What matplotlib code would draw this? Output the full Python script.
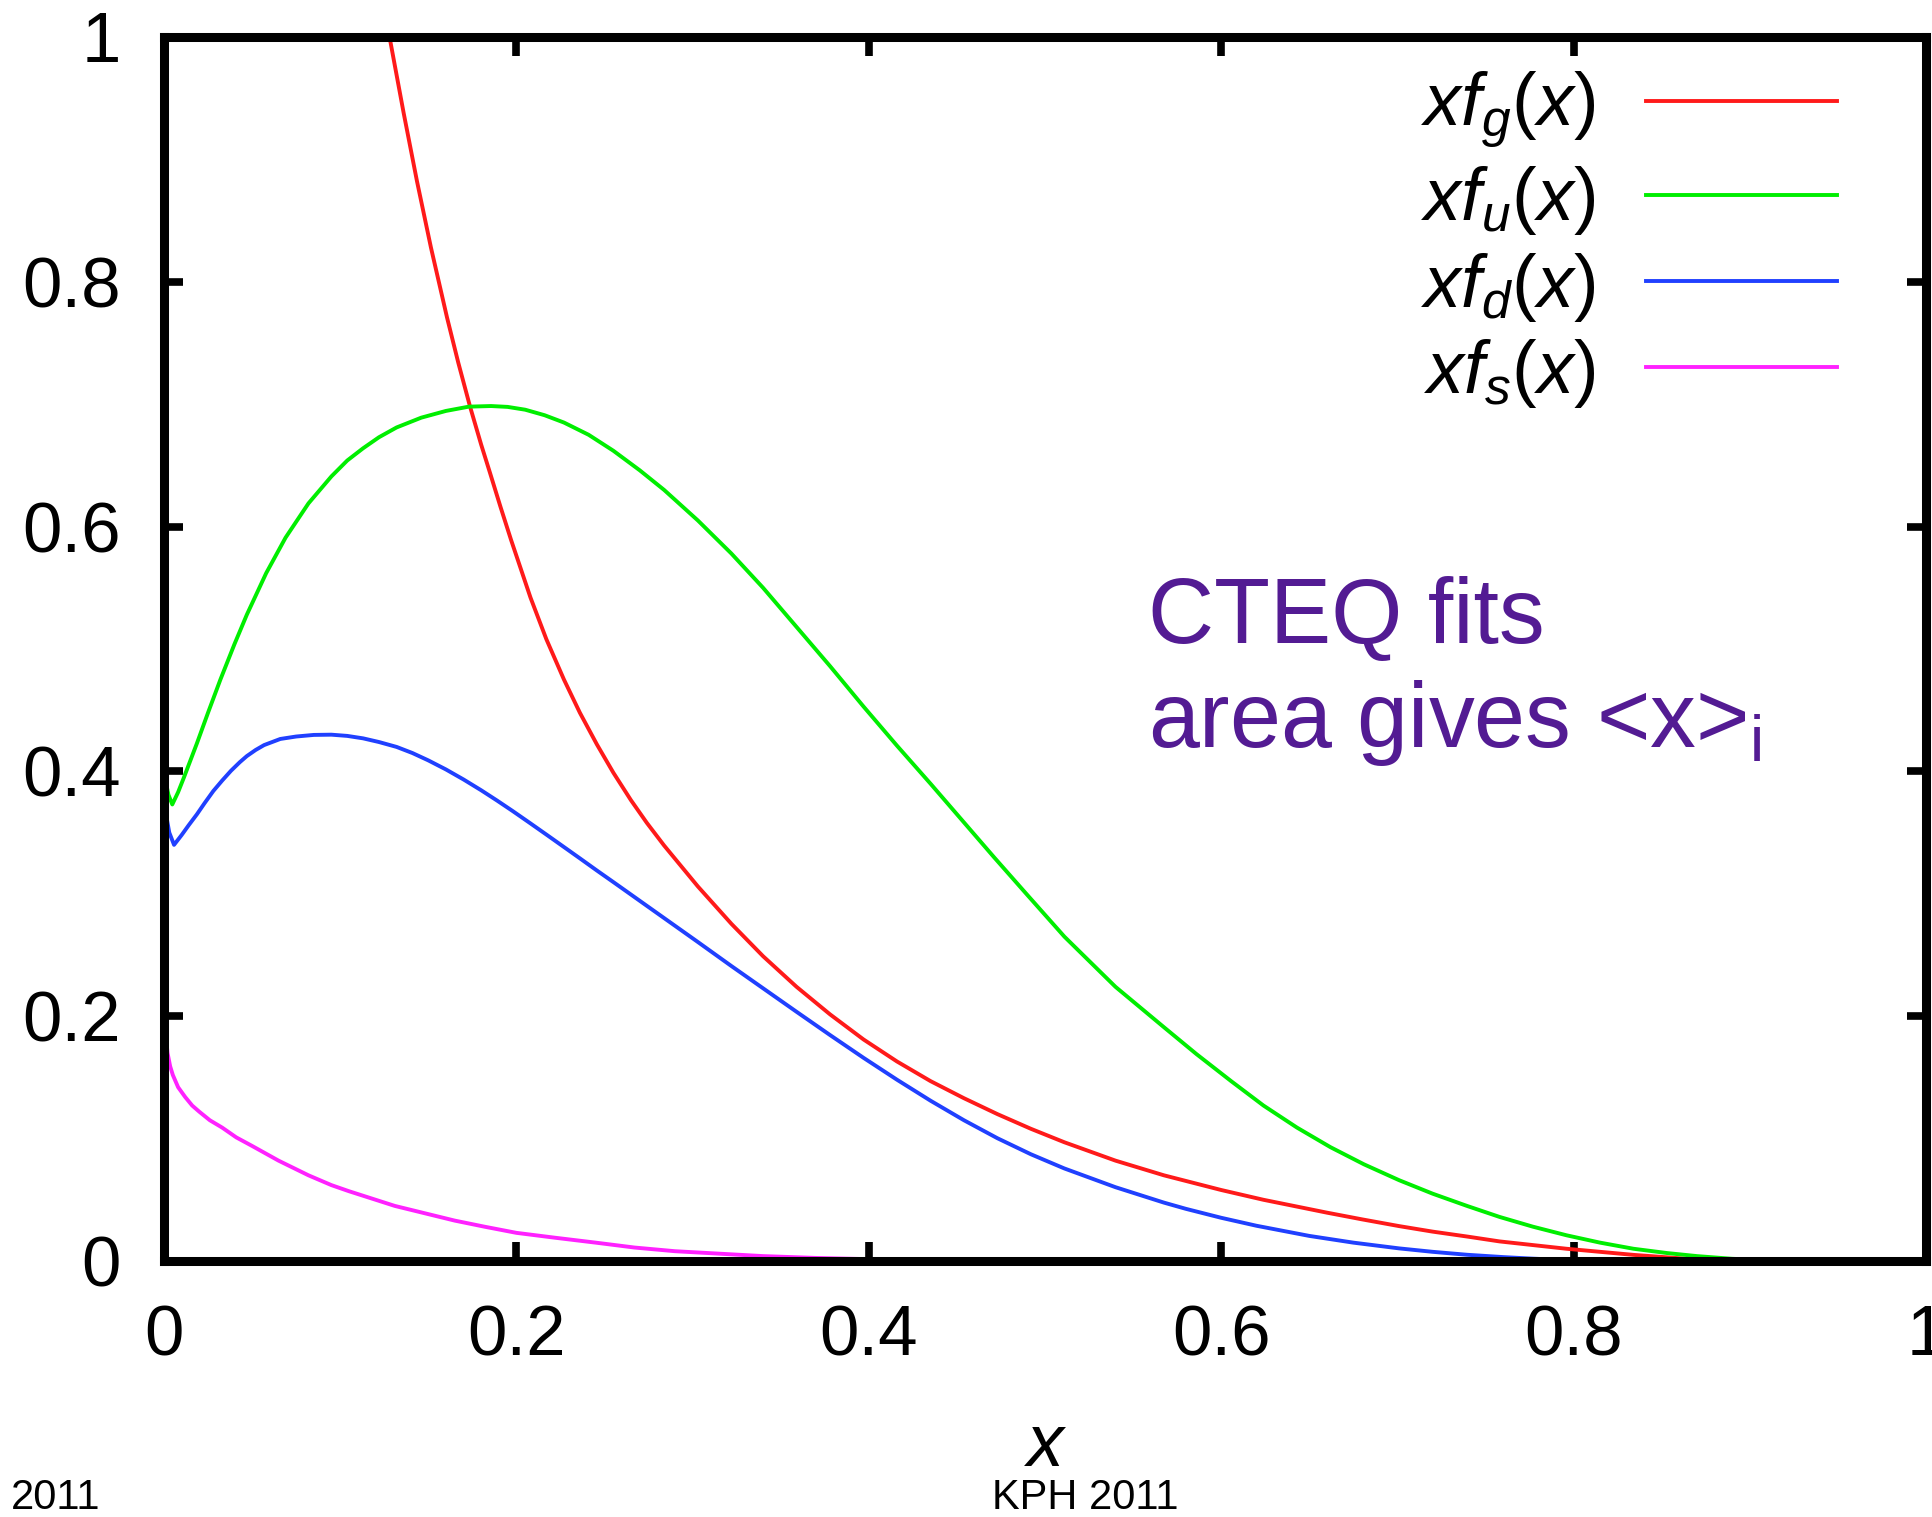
import matplotlib
matplotlib.use("Agg")
import matplotlib.pyplot as plt

plt.rcParams['font.family'] = ['Liberation Sans', 'DejaVu Sans']
plt.rcParams['mathtext.fontset'] = 'custom'
plt.rcParams['mathtext.it'] = 'Liberation Sans:italic'
plt.rcParams['mathtext.rm'] = 'Liberation Sans'
plt.rcParams['mathtext.sf'] = 'Liberation Sans'

# ---- data ----
gluon_x = [0.128, 0.136, 0.1436, 0.1515, 0.1606, 0.167, 0.1737, 0.18, 0.185, 0.191,
           0.197, 0.208, 0.217, 0.227, 0.236, 0.2457, 0.255, 0.265, 0.274, 0.2838,
           0.303, 0.322, 0.34, 0.359, 0.378, 0.397, 0.416, 0.435, 0.454, 0.473,
           0.492, 0.511, 0.54, 0.5675, 0.60, 0.624, 0.66, 0.68, 0.701, 0.72,
           0.7395, 0.758, 0.777, 0.796, 0.815, 0.834, 0.853, 0.87, 0.885]
gluon_y = [1.000, 0.938, 0.882, 0.828, 0.771, 0.734, 0.698, 0.667, 0.644, 0.616,
           0.589, 0.542, 0.508, 0.475, 0.448, 0.422, 0.399, 0.3765, 0.358, 0.3395,
           0.306, 0.2755, 0.249, 0.224, 0.2015, 0.181, 0.163, 0.147, 0.133, 0.120,
           0.108, 0.097, 0.082, 0.070, 0.058, 0.050, 0.0395, 0.034, 0.0285, 0.024,
           0.020, 0.016, 0.013, 0.010, 0.0075, 0.005, 0.003, 0.0012, 0.0]

up_x = [0.0005, 0.0025, 0.0047, 0.008, 0.0113, 0.015, 0.0187, 0.025, 0.032, 0.04,
        0.047, 0.058, 0.069, 0.082, 0.095, 0.104, 0.113, 0.122, 0.132, 0.146,
        0.16, 0.173, 0.1856, 0.195, 0.205, 0.216, 0.227, 0.241, 0.255, 0.27,
        0.2838, 0.303, 0.322, 0.34, 0.359, 0.378, 0.397, 0.416, 0.435, 0.453,
        0.471, 0.49, 0.511, 0.54, 0.5675, 0.586, 0.6056, 0.624, 0.643, 0.662,
        0.681, 0.701, 0.72, 0.7395, 0.758, 0.777, 0.796, 0.815, 0.834, 0.853,
        0.87, 0.89, 0.92]
up_y = [0.395, 0.381, 0.373, 0.383, 0.395, 0.409, 0.423, 0.448, 0.475, 0.504,
        0.528, 0.562, 0.591, 0.619, 0.641, 0.654, 0.664, 0.673, 0.681, 0.689,
        0.6945, 0.698, 0.6985, 0.6978, 0.6955, 0.691, 0.685, 0.675, 0.662, 0.646,
        0.630, 0.605, 0.578, 0.550, 0.518, 0.486, 0.453, 0.421, 0.390, 0.360,
        0.330, 0.299, 0.265, 0.224, 0.191, 0.169, 0.147, 0.127, 0.109, 0.093,
        0.079, 0.066, 0.055, 0.045, 0.036, 0.028, 0.021, 0.015, 0.010, 0.0065,
        0.004, 0.0018, 0.0]

down_x = [0.0005, 0.003, 0.0057, 0.010, 0.014, 0.0187, 0.023, 0.028, 0.033, 0.038,
          0.043, 0.047, 0.052, 0.0568, 0.066, 0.075, 0.085, 0.095, 0.104, 0.113,
          0.122, 0.132, 0.141, 0.150, 0.16, 0.170, 0.18, 0.189, 0.198, 0.208,
          0.217, 0.227, 0.236, 0.2457, 0.255, 0.265, 0.274, 0.2838, 0.303, 0.322,
          0.34, 0.359, 0.378, 0.397, 0.416, 0.435, 0.454, 0.473, 0.492, 0.511,
          0.54, 0.5675, 0.58, 0.60, 0.62, 0.65, 0.675, 0.701, 0.72, 0.7395,
          0.76, 0.777, 0.80, 0.82]
down_y = [0.370, 0.350, 0.340, 0.348, 0.356, 0.365, 0.374, 0.384, 0.3925, 0.4005,
          0.4075, 0.4125, 0.4175, 0.4215, 0.4265, 0.4285, 0.4298, 0.430, 0.429, 0.427,
          0.424, 0.420, 0.415, 0.409, 0.4016, 0.3934, 0.3846, 0.3762, 0.3675, 0.3575,
          0.3484, 0.3382, 0.329, 0.319, 0.3096, 0.2994, 0.2902, 0.2802, 0.2606, 0.241,
          0.2228, 0.2036, 0.1846, 0.166, 0.1481, 0.131, 0.115, 0.1003, 0.0872, 0.0756,
          0.0603, 0.0477, 0.0426, 0.0353, 0.0288, 0.0205, 0.015, 0.0103, 0.0075, 0.0051,
          0.0032, 0.0019, 0.0005, 0.0]

strange_x = [0.0005, 0.001, 0.002, 0.0035, 0.005, 0.008, 0.012, 0.016, 0.02, 0.026,
             0.033, 0.041, 0.05, 0.065, 0.082, 0.095, 0.105, 0.118, 0.131, 0.148,
             0.165, 0.182, 0.2, 0.222, 0.245, 0.267, 0.29, 0.315, 0.34, 0.37,
             0.4, 0.43, 0.45]
strange_y = [0.197, 0.185, 0.170, 0.159, 0.152, 0.142, 0.134, 0.127, 0.122, 0.115,
             0.109, 0.101, 0.094, 0.082, 0.070, 0.062, 0.057, 0.051, 0.045, 0.039,
             0.033, 0.028, 0.023, 0.019, 0.015, 0.011, 0.008, 0.006, 0.004, 0.0025,
             0.0015, 0.0006, 0.0]

labels = [r'$\mathit{xf_g(x)}$', r'$\mathit{xf_u(x)}$', r'$\mathit{xf_d(x)}$', r'$\mathit{xf_s(x)}$']
colors = ['#ff1a1a', '#00ee00', '#2040ff', '#ff22ff']
tick_vals = [0, 0.2, 0.4, 0.6, 0.8, 1]
tick_labels = ['0', '0.2', '0.4', '0.6', '0.8', '1']

fig = plt.figure(figsize=(19.33, 15.17), dpi=100)
ax = fig.add_axes([164/1933, 1 - 1261/1517, 1762/1933, 1224/1517])

series = [(gluon_x, gluon_y), (up_x, up_y), (down_x, down_y), (strange_x, strange_y)]
for (xs, ys), lab, col in zip(series, labels, colors):
    ax.plot(xs, ys, color=col, lw=2.8, label=lab, solid_joinstyle='round')

ax.set_xlim(0, 1)
ax.set_ylim(0, 1)
ax.set_xticks(tick_vals)
ax.set_xticklabels(tick_labels)
ax.set_yticks(tick_vals)
ax.set_yticklabels(tick_labels)
for s in ax.spines.values():
    s.set_linewidth(6.5)
ax.tick_params(axis='both', which='both', direction='in', length=14, width=5.5,
               top=True, right=True, labelsize=51)
ax.tick_params(axis='y', pad=31)
ax.tick_params(axis='x', pad=31)

ax.set_xlabel('x', fontsize=53, style='italic', va='baseline')
ax.xaxis.set_label_coords(0.5, -(1466 - 1261) / 1224)

leg = ax.legend(loc='upper right', bbox_to_anchor=(0.9495, 0.973), frameon=False,
                markerfirst=False, fontsize=53, handlelength=2.6, handletextpad=0.68,
                labelspacing=0.18, borderpad=0, borderaxespad=0)

ax.text((1148 - 164) / 1762, (1261 - 643) / 1224, 'CTEQ fits', fontsize=66,
        color='#531b93', va='baseline', ha='left')
ax.text((1148 - 164) / 1762, (1261 - 747) / 1224, r'area gives <x>$_\mathregular{i}$',
        fontsize=66, color='#531b93', va='baseline', ha='left')

fig.text(1085 / 1933, 1 - 1509 / 1517, 'KPH 2011', fontsize=30, ha='center', va='baseline')
fig.text(11 / 1933, 1 - 1509 / 1517, '2011', fontsize=30, ha='left', va='baseline')

fig.savefig('out.png', dpi=100)
